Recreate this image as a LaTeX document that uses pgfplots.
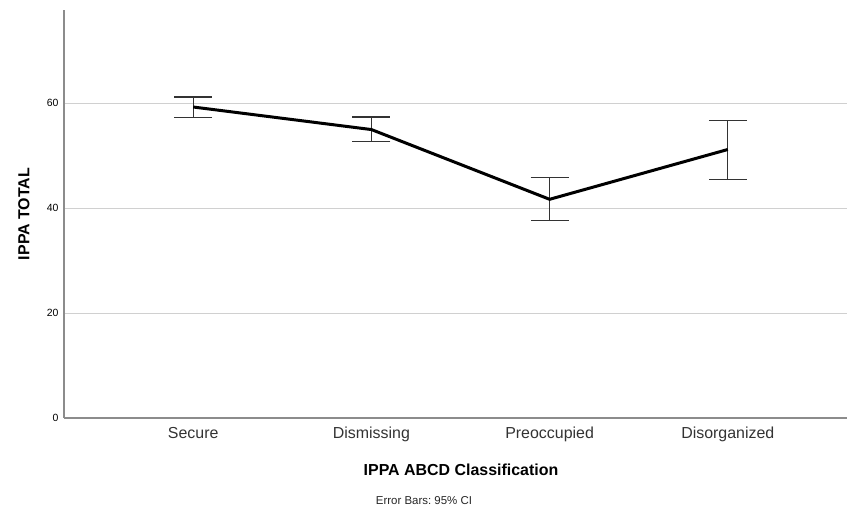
\documentclass[border=0pt]{standalone}
\usepackage{fontspec}
\setmainfont{Liberation Sans}
\usepackage{pgfplots}
\pgfplotsset{compat=1.18}
\definecolor{axgray}{HTML}{8C8C8C}
\definecolor{gridgray}{HTML}{D0D0D0}
\definecolor{errgray}{HTML}{333333}
\frenchspacing
\pgfplotstableread{
x  y     ep   em
1  59.3  1.9  2.0
2  55.0  2.4  2.3
3  41.7  4.1  4.1
4  51.2  5.6  5.7
}\means
\begin{document}
\begin{tikzpicture}[x=1bp,y=1bp]
\useasboundingbox (0,0) rectangle (847,510);
\begin{axis}[
  at={(64bp,92bp)}, anchor=south west,
  scale only axis, width=793bp, height=408bp,
  xmin=0.275, xmax=4.725, ymin=0, ymax=77.8,
  axis x line*=bottom, axis y line*=left,
  axis line style={axgray, line width=1.3bp},
  ytick={0,20,40,60},
  ymajorgrids, grid style={gridgray, line width=1.2bp},
  xtick={1,2,3,4},
  xticklabels={Secure,Dismissing,Preoccupied,Disorganized},
  major tick length=0pt,
  /pgf/number format/assume math mode=true,
  yticklabel style={font=\fontsize{10.5}{12}\selectfont, text=black, xshift=-2bp},
  xticklabel style={font=\fontsize{16}{19}\selectfont, text=black!80, yshift=-5bp,
    text height=12bp, text depth=3.5bp},
  clip=false,
]
\addplot[draw=none, mark=none, forget plot,
  error bars/.cd, y dir=both, y explicit,
  error bar style={errgray, line width=1.2bp},
  error mark options={errgray, line width=1.2bp, mark size=19bp, rotate=90}]
  table[x=x, y=y, y error plus=ep, y error minus=em] {\means};
\addplot[black, line width=3bp, mark=none] table[x=x, y=y] {\means};
\end{axis}
\node[font=\bfseries\fontsize{16}{19}\selectfont] at (461,40) {IPPA ABCD Classification};
\node[font=\fontsize{11.5}{14}\selectfont, text=black!85] at (424,9) {Error Bars: 95\% CI};
\node[font=\bfseries\fontsize{16}{19}\selectfont, rotate=90] at (24,296) {IPPA TOTAL};
\end{tikzpicture}
\end{document}
